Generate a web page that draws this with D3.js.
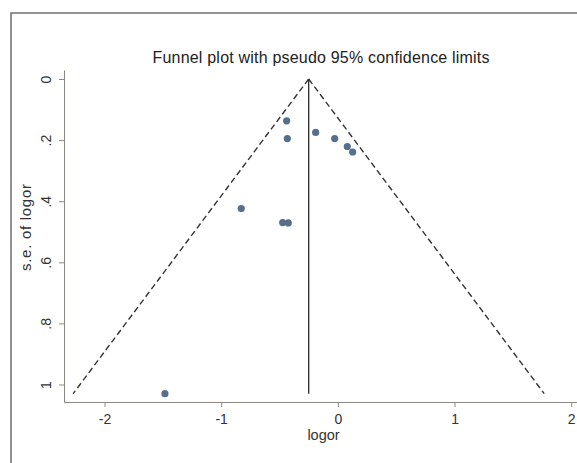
<!DOCTYPE html>
<html>
<head>
<meta charset="utf-8">
<script src="https://cdn.jsdelivr.net/npm/d3@7"></script>
<style>
    body { margin: 0; background: #fff; }
    svg { display: block; }
</style>
</head>
<body>
<svg id="funnelSVG" width="577" height="463"></svg>
<script>
    // Study estimates
    const logor = [-0.439, -0.433, -0.19, -0.027, 0.081, 0.127, -0.828, -0.473, -0.425, -1.482];
    const seLogor = [0.137, 0.195, 0.175, 0.195, 0.221, 0.239, 0.424, 0.470, 0.471, 1.030];

    // Pooled estimate and the widest s.e. (funnel apex and base)
    const pooled = -0.25;
    const seMax = 1.03;

    const xTicks = [-2, -1, 0, 1, 2];
    const xTickLabels = ['-2', '-1', '0', '1', '2'];
    const yTicks = [0, 0.2, 0.4, 0.6, 0.8, 1];
    const yTickLabels = ['0', '.2', '.4', '.6', '.8', '1'];

    const width = 577;
    const height = 463;
    const axisColor = '#8f8782';
    const markerColor = '#56708c';
    const font = 'Liberation Sans, Arial, sans-serif';

    const svg = d3.select('#funnelSVG');

    // Outer frame (top and left edge only visible)
    svg.append('path')
        .attr('d', 'M11,' + height + 'V13H' + width)
        .attr('fill', 'none')
        .attr('stroke', '#6f6f6f')
        .attr('stroke-width', 1.5);

    // Scales: -2..2 sits at 104.5..571.2, 0..1 at 79..384.5
    const xBase = d3.scaleLinear().domain([-2, 2]).range([104.5, 571.2]);
    const yBase = d3.scaleLinear().domain([0, 1]).range([79, 384.5]);

    const plotLeft = 64;
    const plotTop = 70;
    const plotBottom = 402;

    const x = d3.scaleLinear()
        .domain([xBase.invert(plotLeft), xBase.invert(width)])
        .range([plotLeft, width]);

    const y = d3.scaleLinear()
        .domain([yBase.invert(plotTop), yBase.invert(plotBottom)])
        .range([plotTop, plotBottom]);

    // X axis
    const xAxis = svg.append('g')
        .attr('transform', 'translate(0,' + plotBottom + ')')
        .call(d3.axisBottom(x)
            .tickValues(xTicks)
            .tickFormat((d, i) => xTickLabels[i])
            .tickSize(5)
            .tickSizeOuter(0)
            .tickPadding(7));

    xAxis.selectAll('path, line').attr('stroke', axisColor);
    xAxis.selectAll('text')
        .attr('fill', '#333')
        .style('font-family', font)
        .style('font-size', '14px');

    // Y axis with rotated labels
    const yAxis = svg.append('g')
        .attr('transform', 'translate(' + plotLeft + ',0)')
        .call(d3.axisLeft(y)
            .tickValues(yTicks)
            .tickFormat((d, i) => yTickLabels[i])
            .tickSize(5)
            .tickSizeOuter(0));

    yAxis.selectAll('path, line').attr('stroke', axisColor);
    yAxis.selectAll('text')
        .attr('x', 0)
        .attr('y', 0)
        .attr('dy', '0.35em')
        .attr('transform', 'translate(-17.5,0) rotate(-90)')
        .attr('text-anchor', 'middle')
        .attr('fill', '#333')
        .style('font-family', font)
        .style('font-size', '14px');

    // Pseudo 95% confidence limits
    const lineGen = d3.line()
        .x(d => x(d[0]))
        .y(d => y(d[1]));

    const leftLimit = [[pooled, 0], [pooled - 1.96 * seMax, seMax]];
    const rightLimit = [[pooled, 0], [pooled + 1.96 * seMax, seMax]];

    [leftLimit, rightLimit].forEach(function(limit) {
        svg.append('path')
            .attr('d', lineGen(limit))
            .attr('fill', 'none')
            .attr('stroke', '#333')
            .attr('stroke-width', 1.4)
            .attr('stroke-dasharray', '6,3.5');
    });

    // Pooled estimate line
    svg.append('path')
        .attr('d', lineGen([[pooled, 0], [pooled, seMax]]))
        .attr('fill', 'none')
        .attr('stroke', '#2a2a2a')
        .attr('stroke-width', 1.3);

    // Studies
    svg.selectAll('.dot')
        .data(logor)
        .enter()
        .append('circle')
        .attr('class', 'dot')
        .attr('r', 3.6)
        .attr('fill', markerColor)
        .attr('cx', d => x(d))
        .attr('cy', (d, i) => y(seLogor[i]));

    // Titles
    svg.append('text')
        .attr('x', 321)
        .attr('y', 62.5)
        .attr('text-anchor', 'middle')
        .attr('textLength', 337)
        .attr('fill', '#222')
        .style('font-family', font)
        .style('font-size', '16px')
        .text('Funnel plot with pseudo 95% confidence limits');

    svg.append('text')
        .attr('x', 323.5)
        .attr('y', 440)
        .attr('text-anchor', 'middle')
        .attr('fill', '#333')
        .style('font-family', font)
        .style('font-size', '14.5px')
        .text('logor');

    svg.append('text')
        .attr('transform', 'translate(31,227.5) rotate(-90)')
        .attr('text-anchor', 'middle')
        .attr('textLength', 87)
        .attr('fill', '#333')
        .style('font-family', font)
        .style('font-size', '15px')
        .text('s.e. of logor');
</script>
</body>
</html>
